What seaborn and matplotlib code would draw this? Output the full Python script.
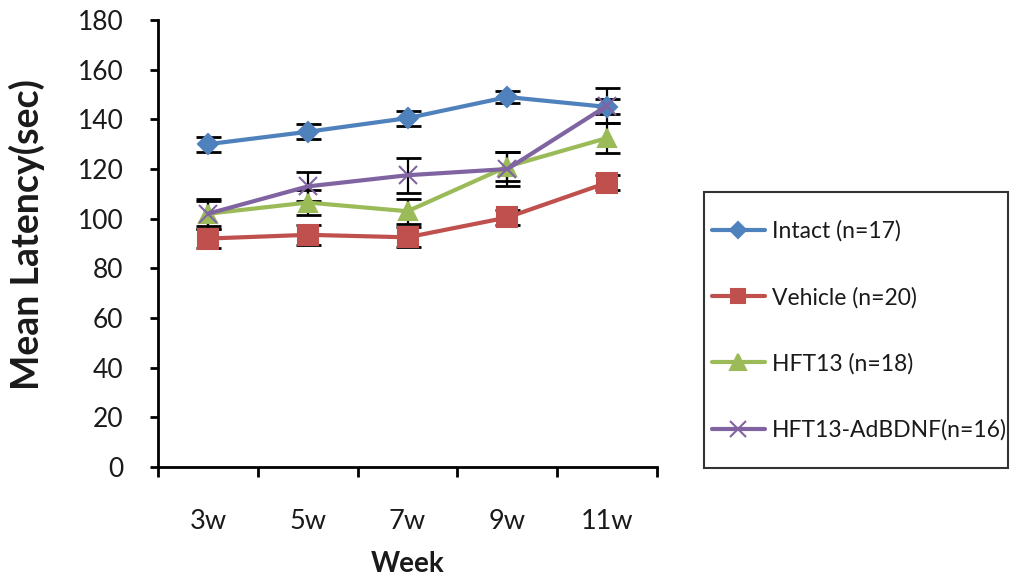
import numpy as np
import matplotlib
matplotlib.use("Agg")
import matplotlib.pyplot as plt
from matplotlib.lines import Line2D
from matplotlib.patches import Rectangle
import seaborn as sns

# ── Data ────────────────────────────────────────────────────
weeks = ["3w", "5w", "7w", "9w", "11w"]
groups = ["Intact (n=17)", "Vehicle (n=20)", "HFT13 (n=18)", "HFT13-AdBDNF(n=16)"]

intact_mean = [130, 135, 140.5, 149, 145]
intact_err = [3, 3, 3, 2.5, 3]
vehicle_mean = [92, 93.5, 92.5, 100.5, 114.5]
vehicle_err = [4, 4, 4, 3, 3]
hft13_mean = [102, 106.5, 103, 121, 132.5]
hft13_err = [5, 5, 5, 6, 6]
adbdnf_mean = [102, 113, 117.5, 120, 145.5]
adbdnf_err = [6, 6, 7, 7, 7]

means = [intact_mean, vehicle_mean, hft13_mean, adbdnf_mean]
errs = [intact_err, vehicle_err, hft13_err, adbdnf_err]

COLORS = ["#4F81BD", "#C0504D", "#9BBB59", "#8064A2"]
MARKERS = ["D", "s", "^", "x"]
MSIZES = [10, 14, 13, 13]
LEG_MSIZES = [8, 10, 11, 11]

# ── Style ────────────────────────────────────────────────────
sns.set_style("white")
plt.rcParams["font.family"] = ["Lato", "DejaVu Sans"]
TXT = "#1a1a1a"

fig = plt.figure(figsize=(10.11, 5.77), dpi=100)
ax = fig.add_axes([0.1563, 0.1906, 0.4936, 0.7747])

x = np.arange(len(weeks))

# error bars first (drawn under the markers)
for m, e in zip(means, errs):
    ax.errorbar(x, m, yerr=e, fmt="none", ecolor="black",
                elinewidth=1.6, capsize=9, capthick=2, zorder=2)

for g, m, c, mk, ms in zip(groups, means, COLORS, MARKERS, MSIZES):
    sns.lineplot(x=x, y=m, color=c, marker=mk, markersize=ms,
                 markerfacecolor=c, markeredgecolor=c, markeredgewidth=1.5,
                 linewidth=3, ax=ax, zorder=3, label=g, legend=False)

# ── Axes ─────────────────────────────────────────────────────
ax.set_xlim(-0.5, len(weeks) - 0.5)
ax.set_ylim(0, 180)
ax.set_yticks(np.arange(0, 181, 20))
ax.set_xticks(np.arange(-0.5, len(weeks), 1.0))
ax.set_xticklabels([])
ax.set_xticks(x, minor=True)
ax.set_xticklabels(weeks, minor=True, fontsize=19.5, color=TXT)
ax.tick_params(axis="x", which="major", direction="out", length=7,
               width=2, color="black", bottom=True)
ax.tick_params(axis="x", which="minor", length=0, pad=30)
ax.tick_params(axis="y", direction="out", length=6, width=2,
               color="black", left=True, labelsize=19, labelcolor=TXT,
               pad=19)

for side in ["top", "right"]:
    ax.spines[side].set_visible(False)
for side in ["left", "bottom"]:
    ax.spines[side].set_color("black")
    ax.spines[side].set_linewidth(2)

ax.set_xlabel("Week", fontsize=20, fontweight="bold", color=TXT)
ax.xaxis.set_label_coords(0.5, -0.187)
ax.set_ylabel("Mean Latency(sec)", fontsize=27, fontweight="bold", color=TXT)
ax.yaxis.set_label_coords(-0.226, 0.519)
ax.grid(False)

# ── Legend ───────────────────────────────────────────────────
handles = [Line2D([0], [0], color=c, marker=mk, markersize=ms, linewidth=3,
                  markerfacecolor=c, markeredgecolor=c, markeredgewidth=1.5)
           for c, mk, ms in zip(COLORS, MARKERS, LEG_MSIZES)]
leg = fig.legend(handles, groups, loc="center left",
                 bbox_to_anchor=(712 / 1011, 1 - 330.5 / 577),
                 fontsize=16.5, frameon=False, labelspacing=1.95,
                 borderpad=0, handlelength=2.3, handletextpad=0.3,
                 borderaxespad=0)
for t in leg.get_texts():
    t.set_color(TXT)
fig.patches.append(Rectangle((704 / 1011, 1 - 468 / 577), 304 / 1011, 276 / 577,
                             transform=fig.transFigure, fill=False,
                             edgecolor="#333333", linewidth=1.5))

fig.savefig("out.png", dpi=100)
